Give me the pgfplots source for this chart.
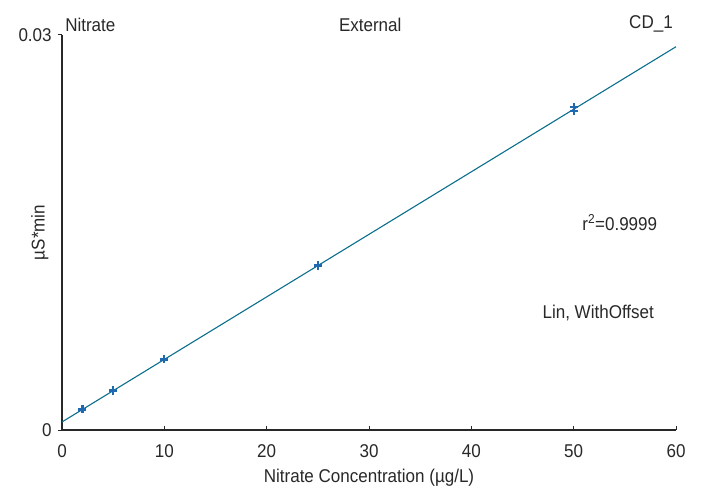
\documentclass[border=0pt]{standalone}
\usepackage{pgfplots}
\pgfplotsset{compat=1.18}
\usepackage{fontspec}
\setmainfont{Liberation Sans}[FakeStretch=0.92]
\definecolor{linec}{RGB}{10,110,140}
\definecolor{markc}{RGB}{30,105,175}
\definecolor{axc}{RGB}{40,40,40}
\begin{document}
\fontsize{18.5bp}{21bp}\selectfont
\begin{tikzpicture}
\begin{axis}[
  scale only axis, width=614bp, height=395bp,
  xmin=0, xmax=60, ymin=0, ymax=0.03,
  axis x line*=bottom, axis y line*=left,
  axis line style={axc, line width=1.2bp},
  xtick={0,10,...,60}, ytick={0,0.03},
  yticklabels={0,0.03},
  scaled y ticks=false,
  tick style={axc, line width=1bp},
  major tick length=4bp,
  xtick align=inside, ytick align=outside,
  /pgf/number format/assume math mode=true,
  tick label style={font=\fontsize{18.5bp}{21bp}\selectfont, text=axc},
  xticklabel style={yshift=-8bp},
  label style={font=\fontsize{18.5bp}{21bp}\selectfont, text=axc},
  xlabel={Nitrate Concentration (µg/L)},
  ylabel={µS*min},
  xlabel style={at={(axis description cs:0.5,0)}, anchor=center, yshift=-48bp},
  ylabel style={at={(axis description cs:-0.036,0.5)}, anchor=center, rotate=0},
  clip=false,
]
\addplot[linec, line width=1.1bp] coordinates {(0,0.00061) (60,0.02911)};
\addplot[only marks, mark=+, mark size=4bp, markc, mark options={line width=2.2bp}] coordinates {
(2,0.00156) (2,0.00162)
(5,0.00295) (5,0.00305)
(10,0.00536) (10,0.00540)
(25,0.01244) (25,0.01250)
(50,0.02420) (50,0.02452)
};
\node[anchor=south west, text=axc, inner sep=0pt] at ([yshift=3bp]rel axis cs:0.005,1.0) {Nitrate};
\node[anchor=south, text=axc, inner sep=0pt] at ([yshift=3bp]rel axis cs:0.502,1.0) {External};
\node[anchor=south east, text=axc, inner sep=0pt] at ([yshift=3bp]rel axis cs:0.995,1.0) {CD\_1};
\node[text=axc] at (axis cs:54.5,0.01575) {r\textsuperscript{2}=0.9999};
\node[text=axc] at (axis cs:52.4,0.00885) {Lin, WithOffset};
\end{axis}
\path (current axis.south west) ++(-62bp,-62bp) coordinate (bl);
\path (current axis.north east) ++(26bp,35bp) coordinate (tr);
\pgfresetboundingbox
\useasboundingbox (bl) rectangle (tr);
\end{tikzpicture}
\end{document}
